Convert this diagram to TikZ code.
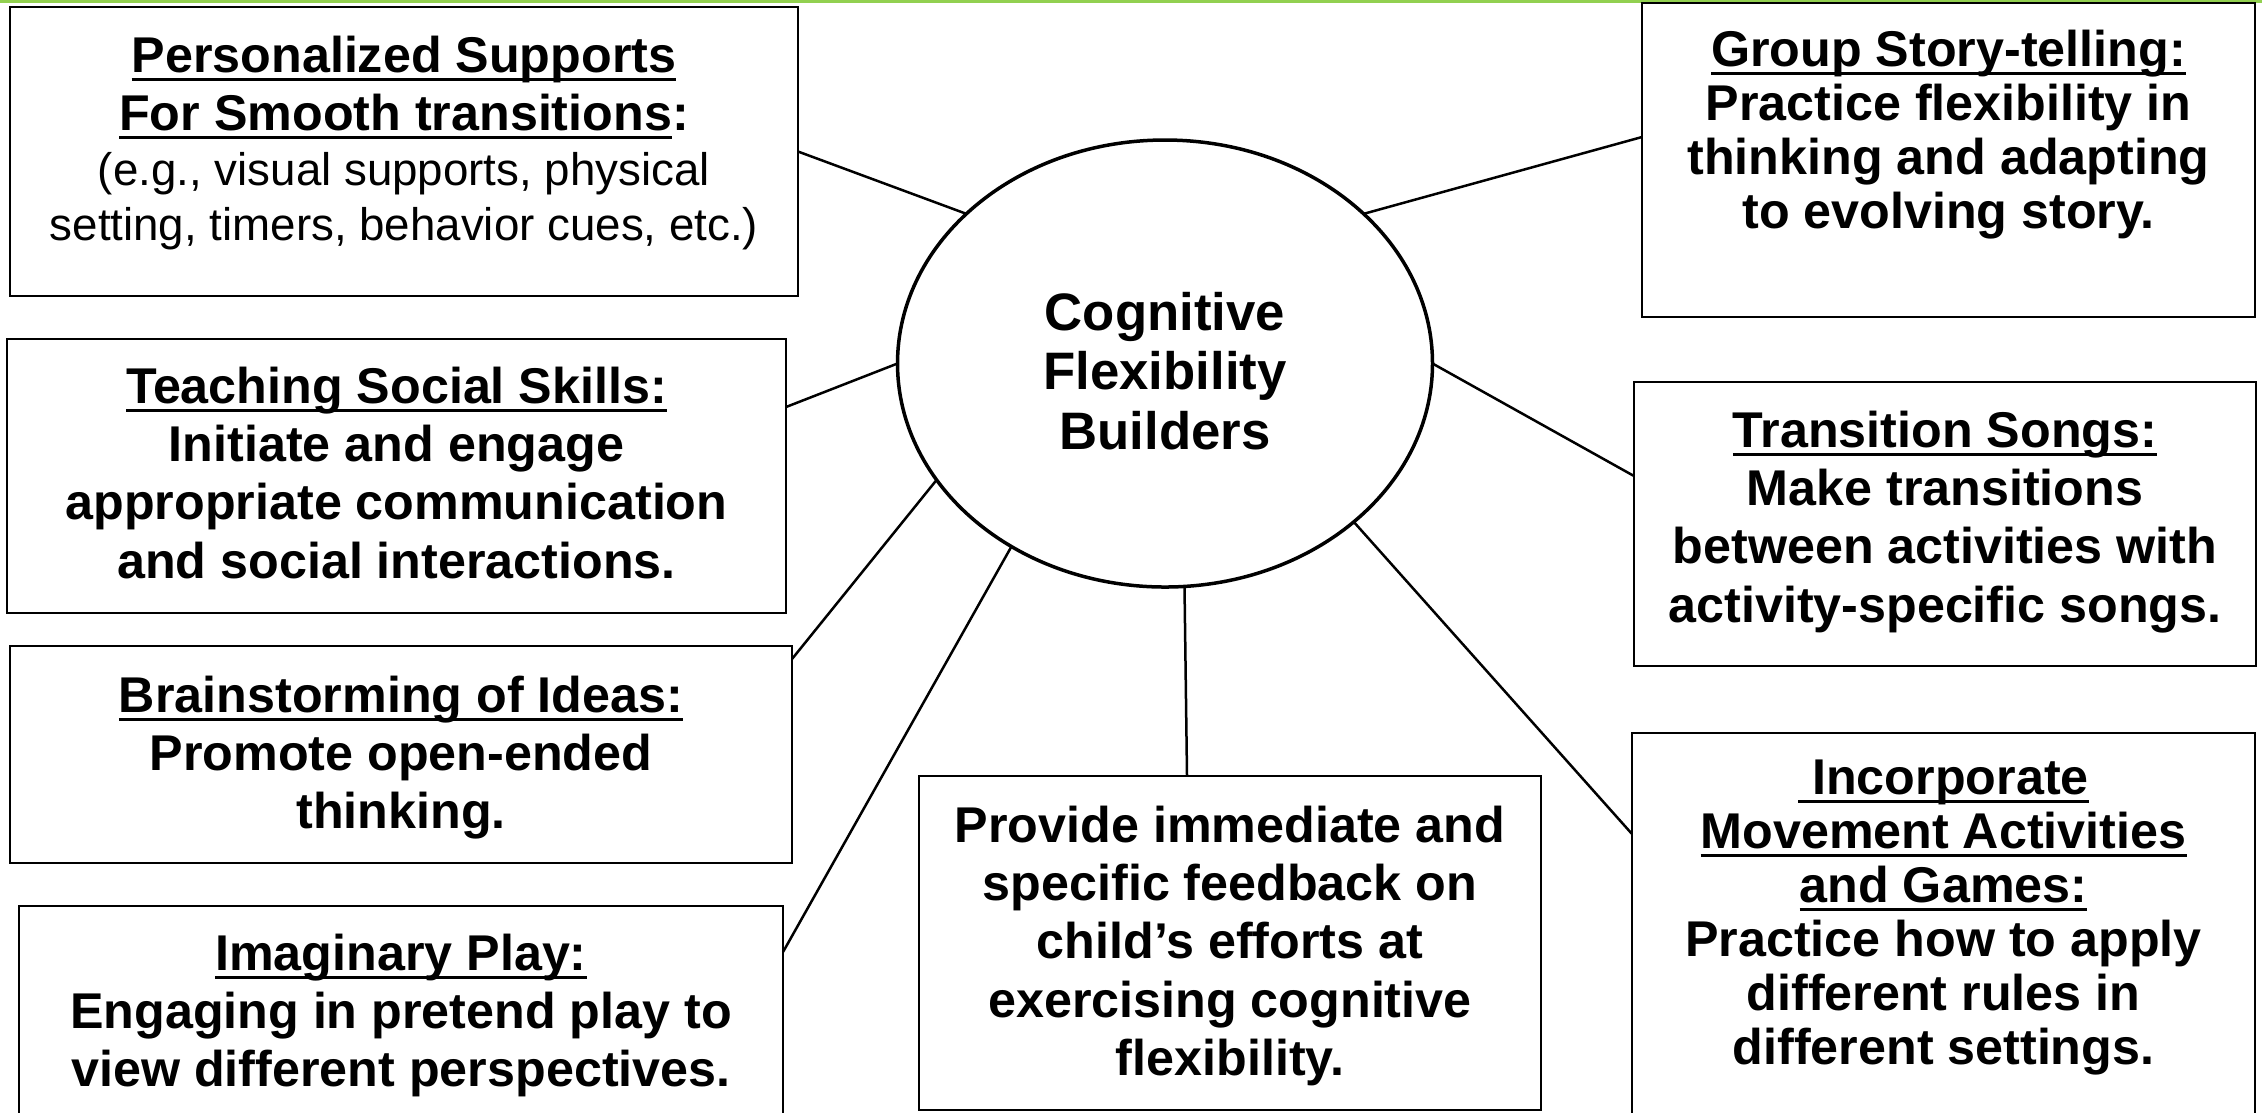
\documentclass[tikz,border=0pt]{standalone}
\usepackage{fontspec}
\setmainfont{Liberation Sans}
\usetikzlibrary{calc,shapes.geometric}
\definecolor{topgreen}{RGB}{146,208,80}
\newsavebox\ulbox
\newcommand\hul[1]{\leavevmode\sbox\ulbox{#1}\rlap{\rule[-2.4pt]{\wd\ulbox}{0.75pt}}\usebox\ulbox}
\tikzset{
  box/.style={draw, line width=0.25mm, rectangle, inner sep=0pt, outer sep=0pt},
  txt/.style={align=center, inner sep=0pt, anchor=north, font=\fontsize{14.3pt}{16.6pt}\selectfont\bfseries},
  tighttxt/.style={txt, font=\fontsize{14.3pt}{15.4pt}\selectfont\bfseries},
  regtxt/.style={align=center, inner sep=0pt, anchor=north, font=\fontsize{13pt}{15.6pt}\selectfont},
  conn/.style={line width=0.25mm},
  hub/.style={draw, ellipse, line width=0.35mm, inner sep=0pt, outer sep=0pt},
  hubtxt/.style={align=center, inner sep=0pt, font=\fontsize{15pt}{17pt}\selectfont\bfseries},
}
\begin{document}
\begin{tikzpicture}[x=0.1mm, y=-0.1mm]
\useasboundingbox (0,0) rectangle (2262,1112);
\clip (0,0) rectangle (2262,1112);
% top green rule
\draw[topgreen, line width=0.28mm] (0,1.4) -- (2262,1.4);

% boxes
\node[box, minimum width=78.8mm, minimum height=28.9mm] (b1) at (404,151.5) {};
\node[box, minimum width=77.9mm, minimum height=27.4mm] (b2) at (396.5,476) {};
\node[box, minimum width=78.2mm, minimum height=21.7mm] (b3) at (401,754.5) {};
\node[box, minimum width=76.4mm, minimum height=21.9mm] (b4) at (401,1015.5) {};
\node[box, minimum width=62.2mm, minimum height=33.4mm] (b5) at (1230,943) {};
\node[box, minimum width=62.3mm, minimum height=39.2mm] (b6) at (1943.5,929) {};
\node[box, minimum width=62.2mm, minimum height=28.4mm] (b7) at (1945,524) {};
\node[box, minimum width=61.3mm, minimum height=31.4mm] (b8) at (1948.5,160) {};

% hub
\node[hub, minimum width=53.5mm, minimum height=44.7mm] (e) at (1165,363.5) {};
\node[hubtxt] (et) at (1165,371) {Cognitive\\Flexibility\\Builders};

% texts
\node[txt] (t1a) at (404,35) {\hul{Personalized Supports}\\\hul{For Smooth transitions}:};
\node[regtxt] (t1b) at (404,152) {(e.g., visual supports, physical\\setting, timers, behavior cues, etc.)};
\node[txt] (t2) at (396.5,366) {\hul{Teaching Social Skills:}\\Initiate and engage\\appropriate communication\\and social interactions.};
\node[txt] (t3) at (401,675) {\hul{Brainstorming of Ideas:}\\Promote open-ended\\thinking.};
\node[txt] (t4) at (401,933) {\hul{Imaginary Play:}\\Engaging in pretend play to\\view different perspectives.};
\node[txt] (t5) at (1230,805) {Provide immediate and\\specific feedback on\\child’s efforts at\\exercising cognitive\\flexibility.};
\node[tighttxt] (t6) at (1943.5,759) {\hul{\ Incorporate}\\\hul{Movement Activities}\\\hul{and Games:}\\Practice how to apply\\different rules in\\different settings.};
\node[txt] (t7) at (1945,410) {\hul{Transition Songs:}\\Make transitions\\between activities with\\activity-specific songs.};
\node[tighttxt] (t8) at (1948.5,29) {\hul{Group Story-telling:}\\Practice flexibility in\\thinking and adapting\\to evolving story.};

% connectors
\draw[conn] (b1.east) -- (e.143);
\draw[conn] (e.37) -- ([yshift=2.3mm]b8.west);
\draw[conn] ([yshift=6.9mm]b2.east) -- (e.west);
\draw[conn] (e.east) -- ([yshift=4.8mm]b7.west);
\draw[conn] ([yshift=-1.3mm]b3.north east) -- (e.207);
\draw[conn] ([yshift=-4.6mm]b4.north east) -- (e.230);
\draw[conn] (e.-85) -- ([xshift=-4.3mm]b5.north);
\draw[conn] (e.-40) -- ([yshift=-10.1mm]b6.north west);
\end{tikzpicture}
\end{document}
